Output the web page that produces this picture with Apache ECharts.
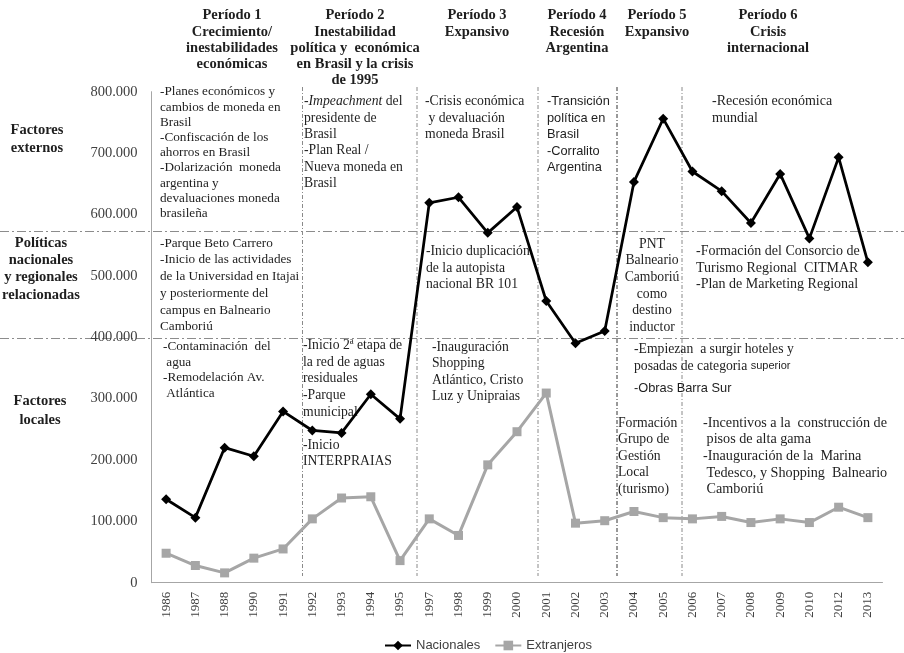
<!DOCTYPE html>
<html><head><meta charset="utf-8">
<script src="https://cdn.jsdelivr.net/npm/echarts@6/dist/echarts.min.js"></script>
<style>html,body{margin:0;padding:0;background:#fff}#c{width:904px;height:653px}</style>
</head><body><div id="c"></div>
<script>
const years = ['1986','1987','1988','1990','1991','1992','1993','1994','1995','1997','1998','1999','2000','2001','2002','2003','2004','2005','2006','2007','2008','2009','2010','2012','2013'];
const nacionales = [136000,106000,220000,206000,279000,248000,244000,307000,267000,619000,628000,570000,612000,459000,390000,410000,653000,756000,670000,638000,586000,666000,561000,693000,522000];
const extranjeros = [48000,28000,16000,40000,55000,104000,138000,140000,36000,104000,77000,192000,246000,309000,97000,101000,116000,106000,104000,108000,98000,104000,98000,123000,106000];
const yTicks = [0,100000,200000,300000,400000,500000,600000,700000,800000];

const SERIF = "'Liberation Serif','Times New Roman',serif";
const SANS = "'Liberation Sans',Arial,sans-serif";
const TXT = '#1e1e1e';

function fmt(v){ return v===0 ? '0' : String(v).replace(/\B(?=(\d{3})+(?!\d))/g,'.'); }

function block(x, firstCenter, lh, lines, opt){
  opt = opt || {};
  return {
    type:'text', silent:true,
    style:{
      x:x, y:firstCenter - lh/2,
      text: lines.join('\n'),
      font: (opt.bold?'bold ':'') + (opt.size||13.7) + 'px ' + (opt.family||SERIF),
      fill: opt.fill||TXT,
      lineHeight: lh,
      textAlign: opt.align||'left',
      textVerticalAlign:'top',
      rich: opt.rich
    }
  };
}
function vline(x, color){
  return {type:'line', silent:true, shape:{x1:x,y1:87,x2:x,y2:576},
    style:{stroke:color, lineWidth:1, lineDash:[4,2,1,2]}};
}
function hline(y){
  return {type:'line', silent:true, shape:{x1:0,y1:y,x2:904,y2:y},
    style:{stroke:'#8c8c8c', lineWidth:1, lineDash:[9,3,2,3]}};
}

const graphics = [
  hline(231.5), hline(338.5),
  vline(302.5,'#8a8a8a'), vline(417,'#8a8a8a'), vline(538,'#8a8a8a'), vline(617,'#333'), vline(682,'#8a8a8a'),
  // titles
  block(232, 15.7, 16.1, ['Período 1','Crecimiento/','inestabilidades','económicas'], {bold:true,size:14.5,align:'center'}),
  block(355, 15.7, 16.1, ['Período 2','Inestabilidad','política y  económica','en Brasil y la crisis','de 1995'], {bold:true,size:14.5,align:'center'}),
  block(477, 15.7, 16.1, ['Período 3','Expansivo'], {bold:true,size:14.5,align:'center'}),
  block(577, 15.7, 16.1, ['Período 4','Recesión','Argentina'], {bold:true,size:14.5,align:'center'}),
  block(657, 15.7, 16.1, ['Período 5','Expansivo'], {bold:true,size:14.5,align:'center'}),
  block(768, 15.7, 16.1, ['Período 6','Crisis','internacional'], {bold:true,size:14.5,align:'center'}),
  // row labels
  block(37, 130, 18, ['Factores','externos'], {bold:true,size:14.5,align:'center'}),
  block(41, 243, 17.3, ['Políticas','nacionales','y regionales','relacionadas'], {bold:true,size:14.5,align:'center'}),
  block(40, 401, 19, ['Factores','locales'], {bold:true,size:14.5,align:'center'}),
  // period 1
  block(160, 92, 15.2, ['-Planes económicos y','cambios de moneda en','Brasil','-Confiscación de los','ahorros en Brasil','-Dolarización  moneda','argentina y','devaluaciones moneda','brasileña'], {size:13.2}),
  block(160, 243.3, 16.7, ['-Parque Beto Carrero','-Inicio de las actividades','de la Universidad en Itajai','y posteriormente del','campus en Balneario','Camboriú'], {size:13.2}),
  block(163, 347, 15.5, ['-Contaminación  del',' agua','-Remodelación Av.',' Atlántica'], {size:13.2}),
  // period 2
  block(304, 101.7, 16.3, ['-{i|Impeachment} del','presidente de','Brasil','-Plan Real /','Nueva moneda en','Brasil'],
    {rich:{i:{font:'italic 13.7px '+SERIF, fill:TXT}}}),
  block(303, 345.5, 16.6, ['-Inicio 2ª etapa de','la red de aguas','residuales','-Parque','municipal','','-Inicio','INTERPRAIAS']),
  // period 3
  block(425, 101.7, 16.5, ['-Crisis económica',' y devaluación','moneda Brasil']),
  block(426, 251.7, 16.3, ['-Inicio duplicación','de la autopista','nacional BR 101']),
  block(432, 347, 16.5, ['-Inauguración','Shopping','Atlántico, Cristo','Luz y Unipraias']),
  // period 4
  block(547, 101.7, 16.5, ['-Transición','política en','Brasil','-Corralito','Argentina'], {family:SANS, size:12.8}),
  // period 5
  block(652, 244, 16.7, ['PNT','Balneario','Camboriú','como','destino','inductor'], {align:'center'}),
  block(634, 349, 17, ['-Empiezan  a surgir hoteles y','posadas de categoria {s|superior}'],
    {size:13.7, rich:{s:{font:'11px '+SANS, fill:TXT}}}),
  block(634, 388, 16, ['-Obras Barra Sur'], {family:SANS, size:12.8}),
  block(618, 423, 16.6, ['Formación','Grupo de','Gestión','Local','(turismo)']),
  // period 6
  block(712, 101.7, 16.6, ['-Recesión económica','mundial'], {size:14}),
  block(696, 251.7, 16.3, ['-Formación del Consorcio de','Turismo Regional  CITMAR','-Plan de Marketing Regional'], {size:14}),
  block(703, 423, 16.6, ['-Incentivos a la  construcción de',' pisos de alta gama','-Inauguración de la  Marina',' Tedesco, y Shopping  Balneario',' Camboriú'], {size:14.2})
];

const chart = echarts.init(document.getElementById('c'), null, {renderer:'canvas'});
chart.setOption({
  animation:false,
  backgroundColor:'#fff',
  grid:{left:151.5, right:21.5, top:91.7, bottom:70.3, containLabel:false},
  legend:{
    left:384, top:639, padding:0, itemWidth:26, itemHeight:12, itemGap:14,
    textStyle:{fontFamily:SANS, fontSize:13, color:'#404040'},
    data:['Nacionales','Extranjeros']
  },
  xAxis:{
    type:'category', data:years, boundaryGap:true,
    axisLine:{show:true, lineStyle:{color:'#a6a6a6', width:1}},
    axisTick:{show:false},
    axisLabel:{rotate:90, fontFamily:SERIF, fontSize:13, color:'#404040', margin:9, interval:0},
    splitLine:{show:false}
  },
  yAxis:{
    type:'value', min:yTicks[0], max:yTicks[yTicks.length-1], interval:yTicks[1]-yTicks[0],
    axisLine:{show:true, lineStyle:{color:'#a6a6a6', width:1}},
    axisTick:{show:false},
    splitLine:{show:false},
    axisLabel:{formatter:fmt, fontFamily:SERIF, fontSize:14.5, color:'#404040', margin:14}
  },
  series:[
    {name:'Nacionales', type:'line', data:nacionales, symbol:'diamond', symbolSize:10,
     lineStyle:{color:'#000', width:2.75}, itemStyle:{color:'#000'}, z:3},
    {name:'Extranjeros', type:'line', data:extranjeros, symbol:'rect', symbolSize:9,
     lineStyle:{color:'#a6a6a6', width:3}, itemStyle:{color:'#a6a6a6'}, z:2}
  ],
  graphic:graphics
});
</script></body></html>
